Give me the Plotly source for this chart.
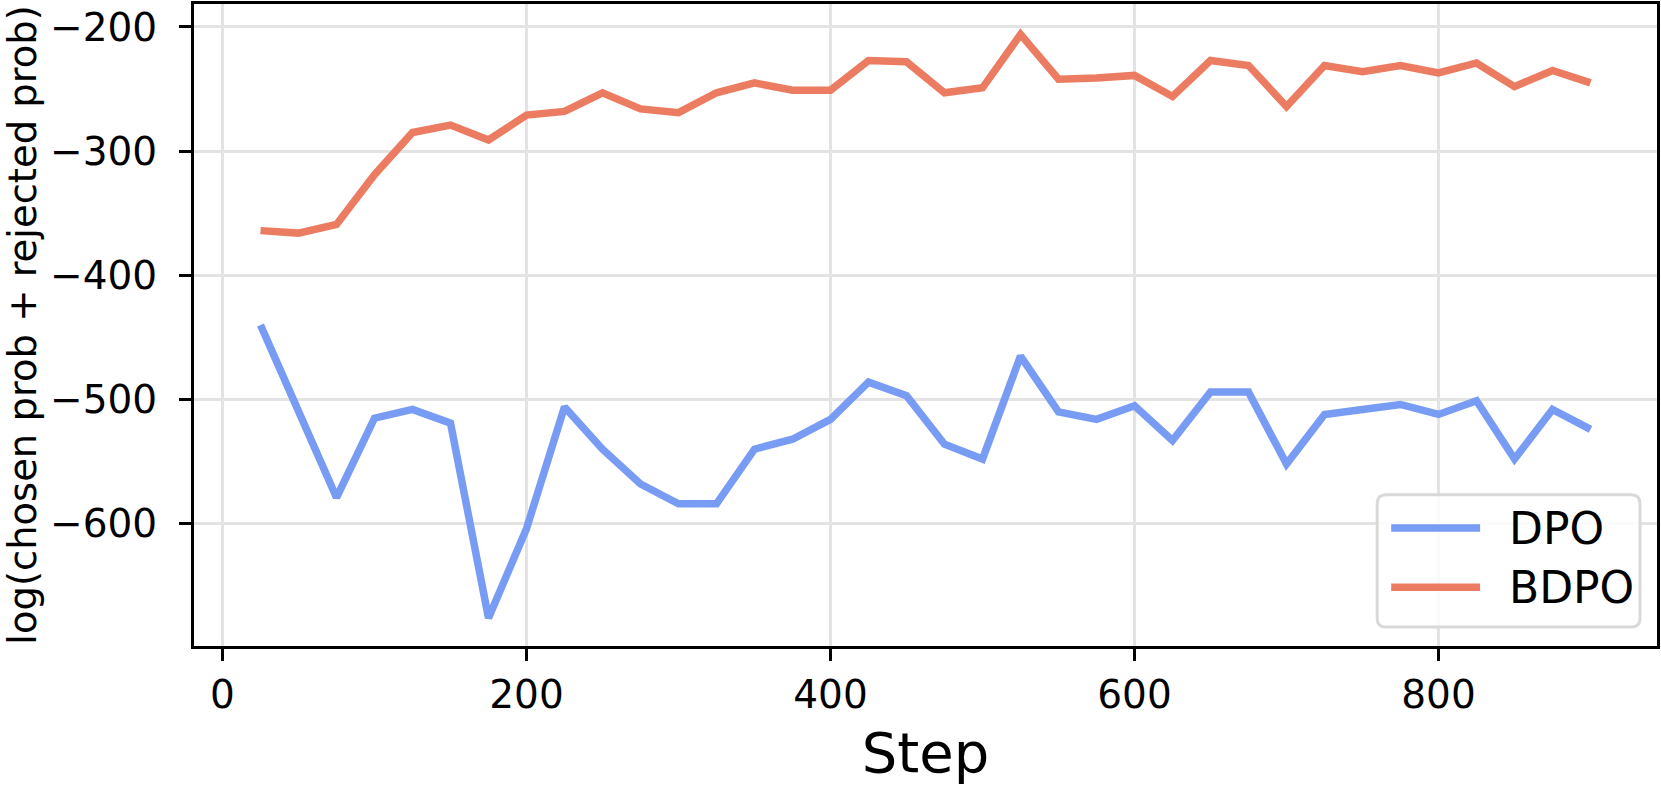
import plotly.graph_objs as go

steps = [25, 50, 75, 100, 125, 150, 175, 200, 225, 250, 275, 300,
         325, 350, 375, 400, 425, 450, 475, 500, 525, 550, 575, 600,
         625, 650, 675, 700, 725, 750, 775, 800, 825, 850, 875, 900]

dpo = [-440, -509, -579, -515, -508, -519, -676, -604, -506, -540, -568, -584,
       -584, -540, -532, -516, -486, -497, -536, -548, -465, -510, -516, -505,
       -533, -494, -494, -552, -512, -508, -504, -512, -501, -548, -508, -524]

bdpo = [-364, -366, -359, -319, -285, -279, -291, -271, -268, -253, -266, -269,
        -253, -245, -251, -251, -227, -228, -253, -249, -206, -242, -241, -239,
        -256, -227, -231, -264, -231, -236, -231, -237, -229, -248, -235, -245]

x_ticks = [0, 200, 400, 600, 800]
y_ticks = [-600, -500, -400, -300, -200]

series = [('DPO', dpo, '#789bf4'), ('BDPO', bdpo, '#eb7c61')]

FONT = "DejaVu Sans"
W, H = 1661, 785
M = dict(l=194, r=3, t=1, b=139)
LINE_W = 7.5

fig = go.Figure()

for name, vals, color in series:
    fig.add_trace(
        go.Scatter(
            x=steps,
            y=vals,
            mode='lines',
            line=dict(color=color, width=LINE_W),
            name=name,
            showlegend=False,
        )
    )

axis_style = dict(
    showline=True,
    linecolor='black',
    linewidth=3,
    mirror=True,
    ticks='outside',
    ticklen=12,
    tickwidth=3,
    tickcolor='black',
    showgrid=True,
    gridcolor='#e3e3e3',
    gridwidth=2.5,
    zeroline=False,
    tickfont=dict(family=FONT, size=39, color='black'),
)

fig.update_xaxes(
    **axis_style,
    range=[-18.75, 943.75],
    tickvals=x_ticks,
    ticklabelstandoff=0,
    title=dict(text='Step', font=dict(family=FONT, size=56, color='black'), standoff=18),
)

fig.update_yaxes(
    **axis_style,
    range=[-698.5, -181.5],
    tickvals=y_ticks,
    ticklabelstandoff=14,
    title=dict(text='log(chosen prob + rejected prob)',
               font=dict(family=FONT, size=38.5, color='black'), standoff=20),
)

# legend drawn by hand (matplotlib style: long line samples, rounded box)
plot_w = W - M['l'] - M['r']
plot_h = H - M['t'] - M['b']


def px(x):
    return (x - M['l']) / plot_w


def py(y):
    return (H - M['b'] - y) / plot_h


bx0, bx1, by0, by1, r = 1378, 1641, 494, 627, 9
rx, ry = r / plot_w, r / plot_h
x0, x1, y0, y1 = px(bx0), px(bx1), py(by1), py(by0)
box_path = (
    f"M{x0 + rx},{y0} L{x1 - rx},{y0} Q{x1},{y0} {x1},{y0 + ry} "
    f"L{x1},{y1 - ry} Q{x1},{y1} {x1 - rx},{y1} "
    f"L{x0 + rx},{y1} Q{x0},{y1} {x0},{y1 - ry} "
    f"L{x0},{y0 + ry} Q{x0},{y0} {x0 + rx},{y0} Z"
)
fig.add_shape(type='path', path=box_path, xref='paper', yref='paper',
              fillcolor='rgba(255,255,255,0.85)', line=dict(color='#d9d9d9', width=3),
              layer='above')

for i, (name, vals, color) in enumerate(series):
    yy = 527.5 + i * 59.5
    fig.add_shape(type='line', xref='paper', yref='paper',
                  x0=px(1392), x1=px(1481), y0=py(yy), y1=py(yy),
                  line=dict(color=color, width=LINE_W), layer='above')
    fig.add_annotation(x=px(1508), y=py(yy), xref='paper', yref='paper',
                       text=name, showarrow=False, xanchor='left', yanchor='middle',
                       font=dict(family=FONT, size=44, color='black'))

fig.update_layout(
    width=W,
    height=H,
    plot_bgcolor='white',
    paper_bgcolor='white',
    margin=M,
    font=dict(family=FONT, color='black'),
    showlegend=False,
)

fig.write_html("out.html", config={'displayModeBar': False},
               post_script="document.body.style.margin='0';")
